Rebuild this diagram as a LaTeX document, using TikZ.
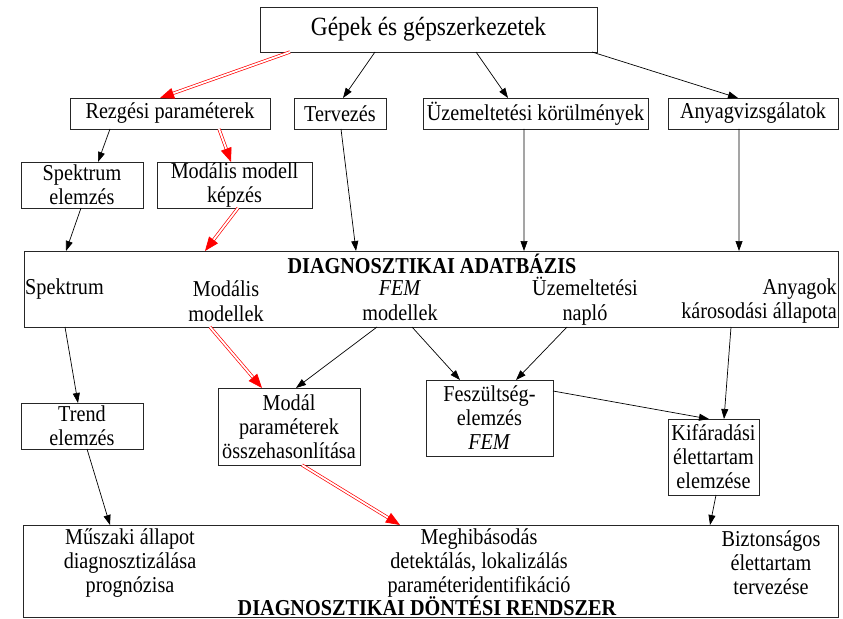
\documentclass[tikz,border=0pt]{standalone}
\usepackage{fontspec}
\setmainfont{Liberation Serif}[FakeStretch=0.89]
\usetikzlibrary{arrows.meta,calc}
\newcommand\fs{\fontsize{22.8}{24}\selectfont}
\newcommand\fsdb{\fontsize{22.8}{25}\selectfont}
\newcommand\fsbig{\fontsize{26.4}{28}\selectfont}
\begin{document}
\begin{tikzpicture}[x=1bp,y=-1bp,
  box/.style={draw=black!85, line width=0.8bp, inner sep=0pt, outer sep=0pt, anchor=north west, align=center, font=\fs},
  lbl/.style={inner sep=0pt, align=center, font=\fs},
  arr/.style={line width=0.7bp, -{Triangle[length=10bp,width=7bp]}},
  rarr/.style={draw=red, line width=0.7bp, double=white, double distance=1.8bp, -{Triangle[length=14bp,width=11bp,fill=red]}},
]
\useasboundingbox (0,0) rectangle (843,619);

% boxes
\node[box, minimum width=337bp, minimum height=45bp, font=\fsbig] (gepek) at (260,7) {Gépek és gépszerkezetek};
\node[box, minimum width=200bp, minimum height=31bp] (rezg) at (70,98) {Rezgési paraméterek};
\node[box, minimum width=92bp, minimum height=31bp] (terv) at (294,98) {Tervezés};
\node[box, minimum width=225bp, minimum height=31bp] (uzem) at (423,98) {Üzemeltetési körülmények};
\node[box, minimum width=170bp, minimum height=31bp] (anyag) at (668,98) {Anyagvizsgálatok};
\node[box, minimum width=122bp, minimum height=46bp] (spek) at (21,162) {Spektrum\\elemzés};
\node[box, minimum width=155bp, minimum height=46bp] (modm) at (157,162) {Modális modell\\képzés};
\node[box, minimum width=814bp, minimum height=76bp] (db) at (24,251) {};
\node[box, minimum width=122bp, minimum height=46bp] (trend) at (21,403) {Trend\\elemzés};
\node[box, minimum width=142bp, minimum height=77bp] (modal) at (218,388) {Modál\\paraméterek\\összehasonlítása};
\node[box, minimum width=127bp, minimum height=76bp] (fesz) at (426,380) {Feszültség-\\elemzés\\\textit{FEM}};
\node[box, minimum width=91bp, minimum height=76bp] (kifar) at (668,419) {Kifáradási\\élettartam\\elemzése};
\node[box, minimum width=815bp, minimum height=92bp] (dont) at (23,525) {};

% texts in database box
\node[lbl, font=\fs\bfseries] (dbtitle) at (432,264) {DIAGNOSZTIKAI ADATBÁZIS};
\node[lbl, anchor=west] (dbspek) at (25,289) {Spektrum};
\node[lbl, font=\fsdb] (dbmod) at (226,301) {Modális\\modellek};
\node[lbl, font=\fsdb] (dbfem) at (400,301) {\textit{FEM}\\modellek};
\node[lbl, font=\fsdb] (dbuzem) at (585,301) {Üzemeltetési\\napló};
\node[lbl, font=\fsdb, anchor=east, align=right] (dbanyag) at (837,301) {Anyagok\\károsodási állapota};

% texts in decision box
\node[lbl] (d1) at (130,563) {Műszaki állapot\\diagnosztizálása\\prognózisa};
\node[lbl] (d2) at (479,563) {Meghibásodás\\detektálás, lokalizálás\\paraméteridentifikáció};
\node[lbl] (d3) at (771,563) {Biztonságos\\élettartam\\tervezése};
\node[lbl, font=\fs\bfseries] (dtitle) at (427,606) {DIAGNOSZTIKAI DÖNTÉSI RENDSZER};

% connectors
\draw[rarr] ([xshift=30bp]gepek.south west) -- ([xshift=90bp]rezg.north west);
\draw[arr] ([xshift=115bp]gepek.south west) -- ([xshift=49bp]terv.north west);
\draw[arr] ([xshift=216bp]gepek.south west) -- ([xshift=85bp]uzem.north west);
\draw[arr] ([xshift=332bp]gepek.south west) -- ([xshift=70bp]anyag.north west);
\draw[arr] ([xshift=40bp]rezg.south west) -- ([xshift=77bp]spek.north west);
\draw[rarr] ([xshift=149bp]rezg.south west) -- ([xshift=74bp]modm.north west);
\draw[arr] ([xshift=47bp]terv.south west) -- ([xshift=332bp]db.north west);
\draw[arr] ([xshift=101bp]uzem.south west) -- ([xshift=500bp]db.north west);
\draw[arr] ([xshift=71bp]anyag.south west) -- ([xshift=715bp]db.north west);
\draw[arr] ([xshift=60bp]spek.south west) -- ([xshift=42bp]db.north west);
\draw[rarr] ([xshift=81bp]modm.south west) -- ([xshift=181bp]db.north west);
\draw[arr] ([xshift=41bp]db.south west) -- ([xshift=57bp]trend.north west);
\draw[rarr] ([xshift=186bp]db.south west) -- ([xshift=44bp]modal.north west);
\draw[arr] ([xshift=353bp]db.south west) -- ([xshift=78bp]modal.north west);
\draw[arr] ([xshift=388bp]db.south west) -- ([xshift=34bp]fesz.north west);
\draw[arr] ([xshift=543bp]db.south west) -- ([xshift=90bp]fesz.north west);
\draw[arr] ([xshift=707bp]db.south west) -- ([xshift=56bp]kifar.north west);
\draw[arr] ([yshift=-11bp]fesz.north east) -- ([xshift=41bp]kifar.north west);
\draw[arr] ([xshift=66bp]trend.south west) -- ([xshift=87bp]dont.north west);
\draw[rarr] ([xshift=84bp]modal.south west) -- ([xshift=377bp]dont.north west);
\draw[arr] ([xshift=48bp]kifar.south west) -- ([xshift=687bp]dont.north west);
\end{tikzpicture}
\end{document}
